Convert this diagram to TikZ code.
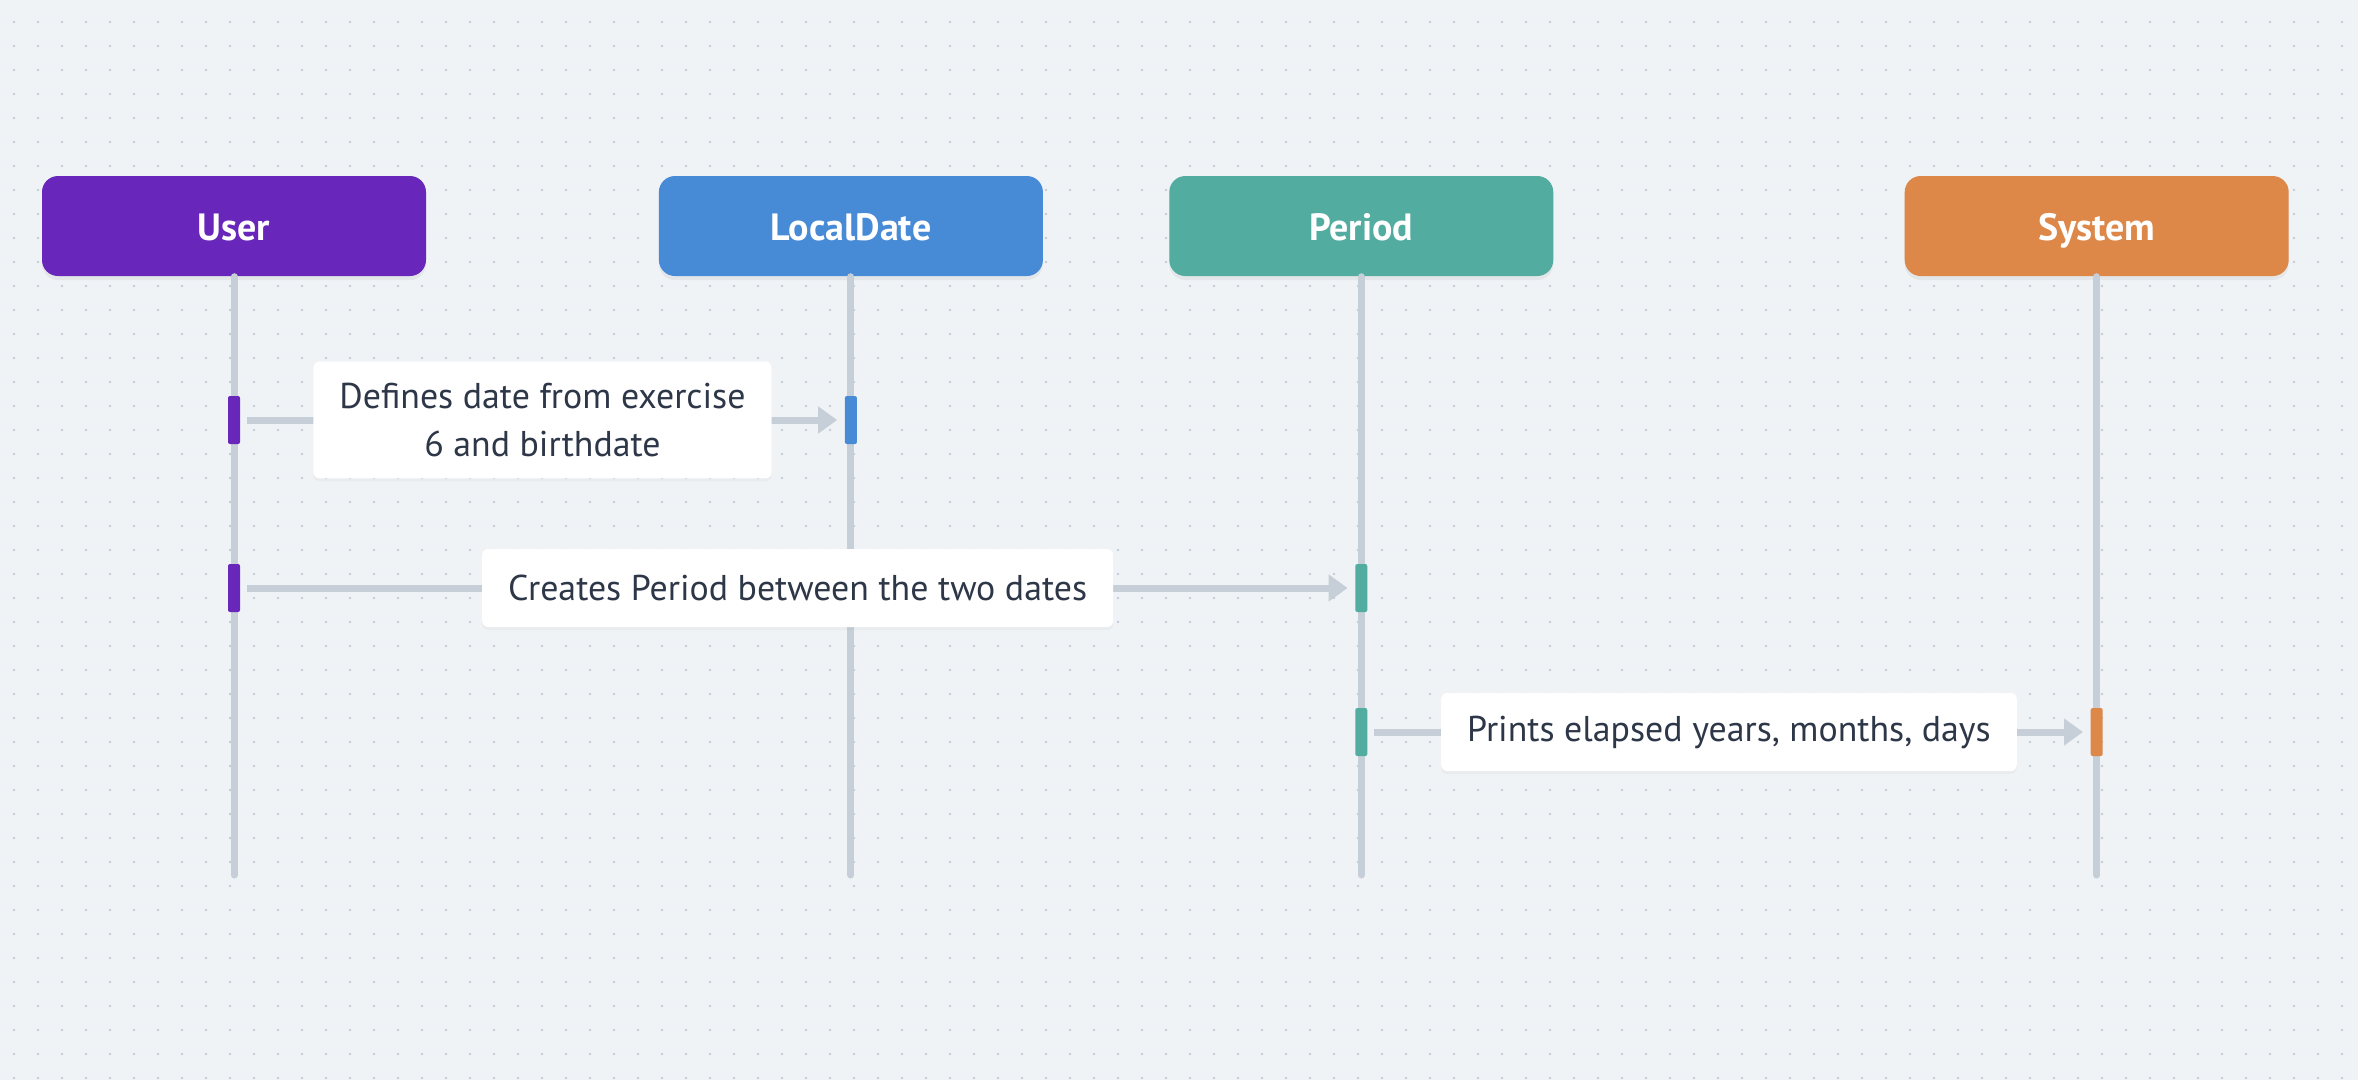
\documentclass[tikz,border=0pt]{standalone}
\usepackage{fontspec}
\setmainfont{PT Sans}
\usetikzlibrary{positioning}
\usetikzlibrary{arrows.meta}
\usetikzlibrary{shadows}
\definecolor{bgpaper}{HTML}{F0F3F6}
\definecolor{dotgrey}{HTML}{C3CAD7}
\definecolor{lifegrey}{HTML}{C6CFD8}
\definecolor{inkdark}{HTML}{2D3748}
\definecolor{usercol}{HTML}{6826BA}
\definecolor{datecol}{HTML}{478AD6}
\definecolor{periodcol}{HTML}{52ACA0}
\definecolor{systemcol}{HTML}{DD8748}
\tikzset{
  head/.style={fill=#1, rounded corners=1.6mm, minimum width=3.84cm, minimum height=1cm,
    text height=1.6ex, text depth=0pt,
    text=white, font=\fontsize{10.8pt}{13pt}\selectfont\bfseries,
    drop shadow={opacity=0.10, shadow xshift=0mm, shadow yshift=-0.4mm}},
  lifeline/.style={draw=lifegrey, line width=0.7mm, line cap=round},
  actbar/.style={fill=#1, rounded corners=0.2mm, minimum width=1.2mm, minimum height=4.8mm, inner sep=0pt},
  msg/.style={draw=lifegrey, line width=0.7mm, -{Triangle[length=1.9mm,width=2.6mm]},
    shorten <=0.6mm, shorten >=0.7mm},
  msglabel/.style={fill=white, rounded corners=0.6mm, text=inkdark, inner xsep=2.6mm, inner ysep=2.1mm,
    minimum height=7.8mm, align=center, font=\fontsize{10.2pt}{13.9pt}\selectfont,
    drop shadow={opacity=0.06, shadow xshift=0mm, shadow yshift=-0.3mm}}
}

\begin{document}
\begin{tikzpicture}[x=0.1mm, y=-0.1mm]
    \useasboundingbox[fill=bgpaper] (0,0) rectangle (2358,1080);
    % dotted paper
    \foreach \i in {0,...,97}
        \foreach \j in {0,...,44}
            \fill[dotgrey] (14+24*\i, 22+24*\j) circle (0.14mm);

    % participants
    \node (user)      [head=usercol] at (234,226)         {User};
    \node (localdate) [head=datecol, right=2.315cm of user]        {LocalDate};
    \node (period)    [head=periodcol, right=1.25cm of localdate]  {Period};
    \node (system)    [head=systemcol, right=3.50cm of period]     {System};

    % lifelines
    \coordinate (userend)      at (user |- 0,875);
    \coordinate (localdateend) at (localdate |- 0,875);
    \coordinate (periodend)    at (period |- 0,875);
    \coordinate (systemend)    at (system |- 0,875);
    \draw[lifeline] (user.south)      -- (userend);
    \draw[lifeline] (localdate.south) -- (localdateend);
    \draw[lifeline] (period.south)    -- (periodend);
    \draw[lifeline] (system.south)    -- (systemend);

    % activations
    \node (usera)   [actbar=usercol]   at (user |- 0,420)      {};
    \node (datea)   [actbar=datecol]   at (localdate |- 0,420) {};
    \node (userb)   [actbar=usercol]   at (user |- 0,588)      {};
    \node (perioda) [actbar=periodcol] at (period |- 0,588)    {};
    \node (periodb) [actbar=periodcol] at (period |- 0,732)    {};
    \node (systemb) [actbar=systemcol] at (system |- 0,732)    {};

    % messages
    \draw[msg] (usera) -- node[msglabel] {Defines date from exercise\\6 and birthdate} (datea);
    \draw[msg] (userb) -- node[msglabel] {Creates Period between the two dates} (perioda);
    \draw[msg] (periodb) -- node[msglabel] {Prints elapsed years, months, days} (systemb);
\end{tikzpicture}
\end{document}
